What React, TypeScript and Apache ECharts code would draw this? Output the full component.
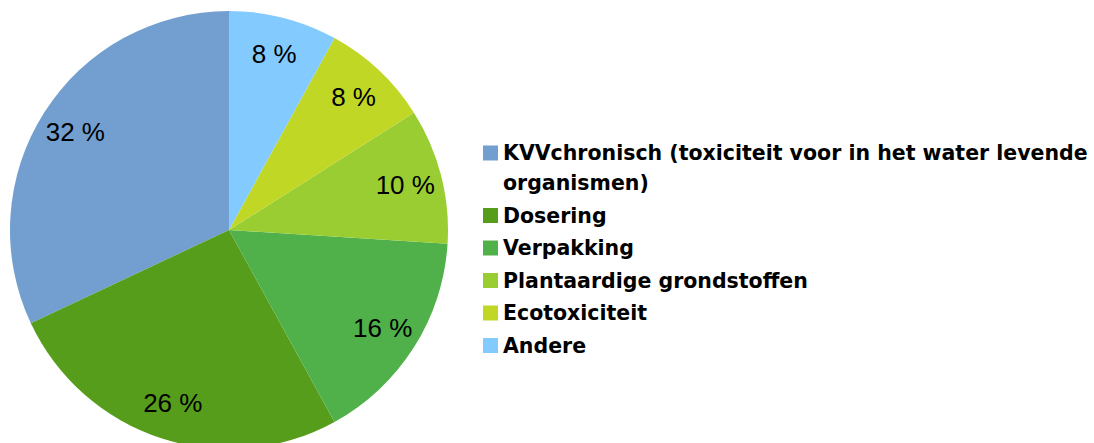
import React, { useEffect, useRef } from "react";
import * as echarts from "echarts";

const categories = [
  "KVVchronisch (toxiciteit voor in het water levende organismen)",
  "Dosering",
  "Verpakking",
  "Plantaardige grondstoffen",
  "Ecotoxiciteit",
  "Andere",
];
const values = [32, 26, 16, 10, 8, 8];
const colors = ["#729fcf", "#579d1c", "#50b04a", "#9acd32", "#c0d726", "#83caff"];

export default function App() {
  const ref = useRef<HTMLDivElement>(null);
  useEffect(() => {
    document.body.style.margin = "0";
    const chart = echarts.init(ref.current!, null, { renderer: "svg" });
    const data = categories.map((name, i) => ({
      name,
      value: values[i],
      itemStyle: { color: colors[i] },
    }));
    chart.setOption({
      animation: false,
      legend: {
        orient: "vertical",
        left: 483,
        top: 108,
        padding: 0,
        itemWidth: 15,
        itemHeight: 15,
        itemGap: 2.5,
        icon: "rect",
        selectedMode: false,
        formatter: (name: string) =>
          name.indexOf(" organismen)") >= 0
            ? "\n" + name.replace(" organismen)", "\norganismen)")
            : name,
        textStyle: {
          fontFamily: "DejaVu Sans",
          fontWeight: "bold",
          fontSize: 20.5,
          lineHeight: 30,
          color: "#000",
        },
        data: categories,
      },
      series: [
        {
          type: "pie",
          center: [229, 230],
          radius: [0, 219],
          startAngle: 90,
          clockwise: false,
          silent: true,
          label: { show: false },
          labelLine: { show: false },
          itemStyle: { borderWidth: 0 },
          data,
        },
        {
          type: "pie",
          center: [229, 230],
          radius: [140, 218],
          startAngle: 90,
          clockwise: false,
          silent: true,
          itemStyle: { color: "rgba(0,0,0,0)", borderWidth: 0 },
          label: {
            show: true,
            position: "inside",
            formatter: "{c} %",
            fontFamily: "Liberation Sans",
            fontSize: 26,
            color: "#000",
          },
          labelLine: { show: false },
          data: categories.map((name, i) => ({ name, value: values[i] })),
        },
      ],
    });
    return () => chart.dispose();
  }, []);
  return <div ref={ref} style={{ width: 1094, height: 443 }} />;
}
